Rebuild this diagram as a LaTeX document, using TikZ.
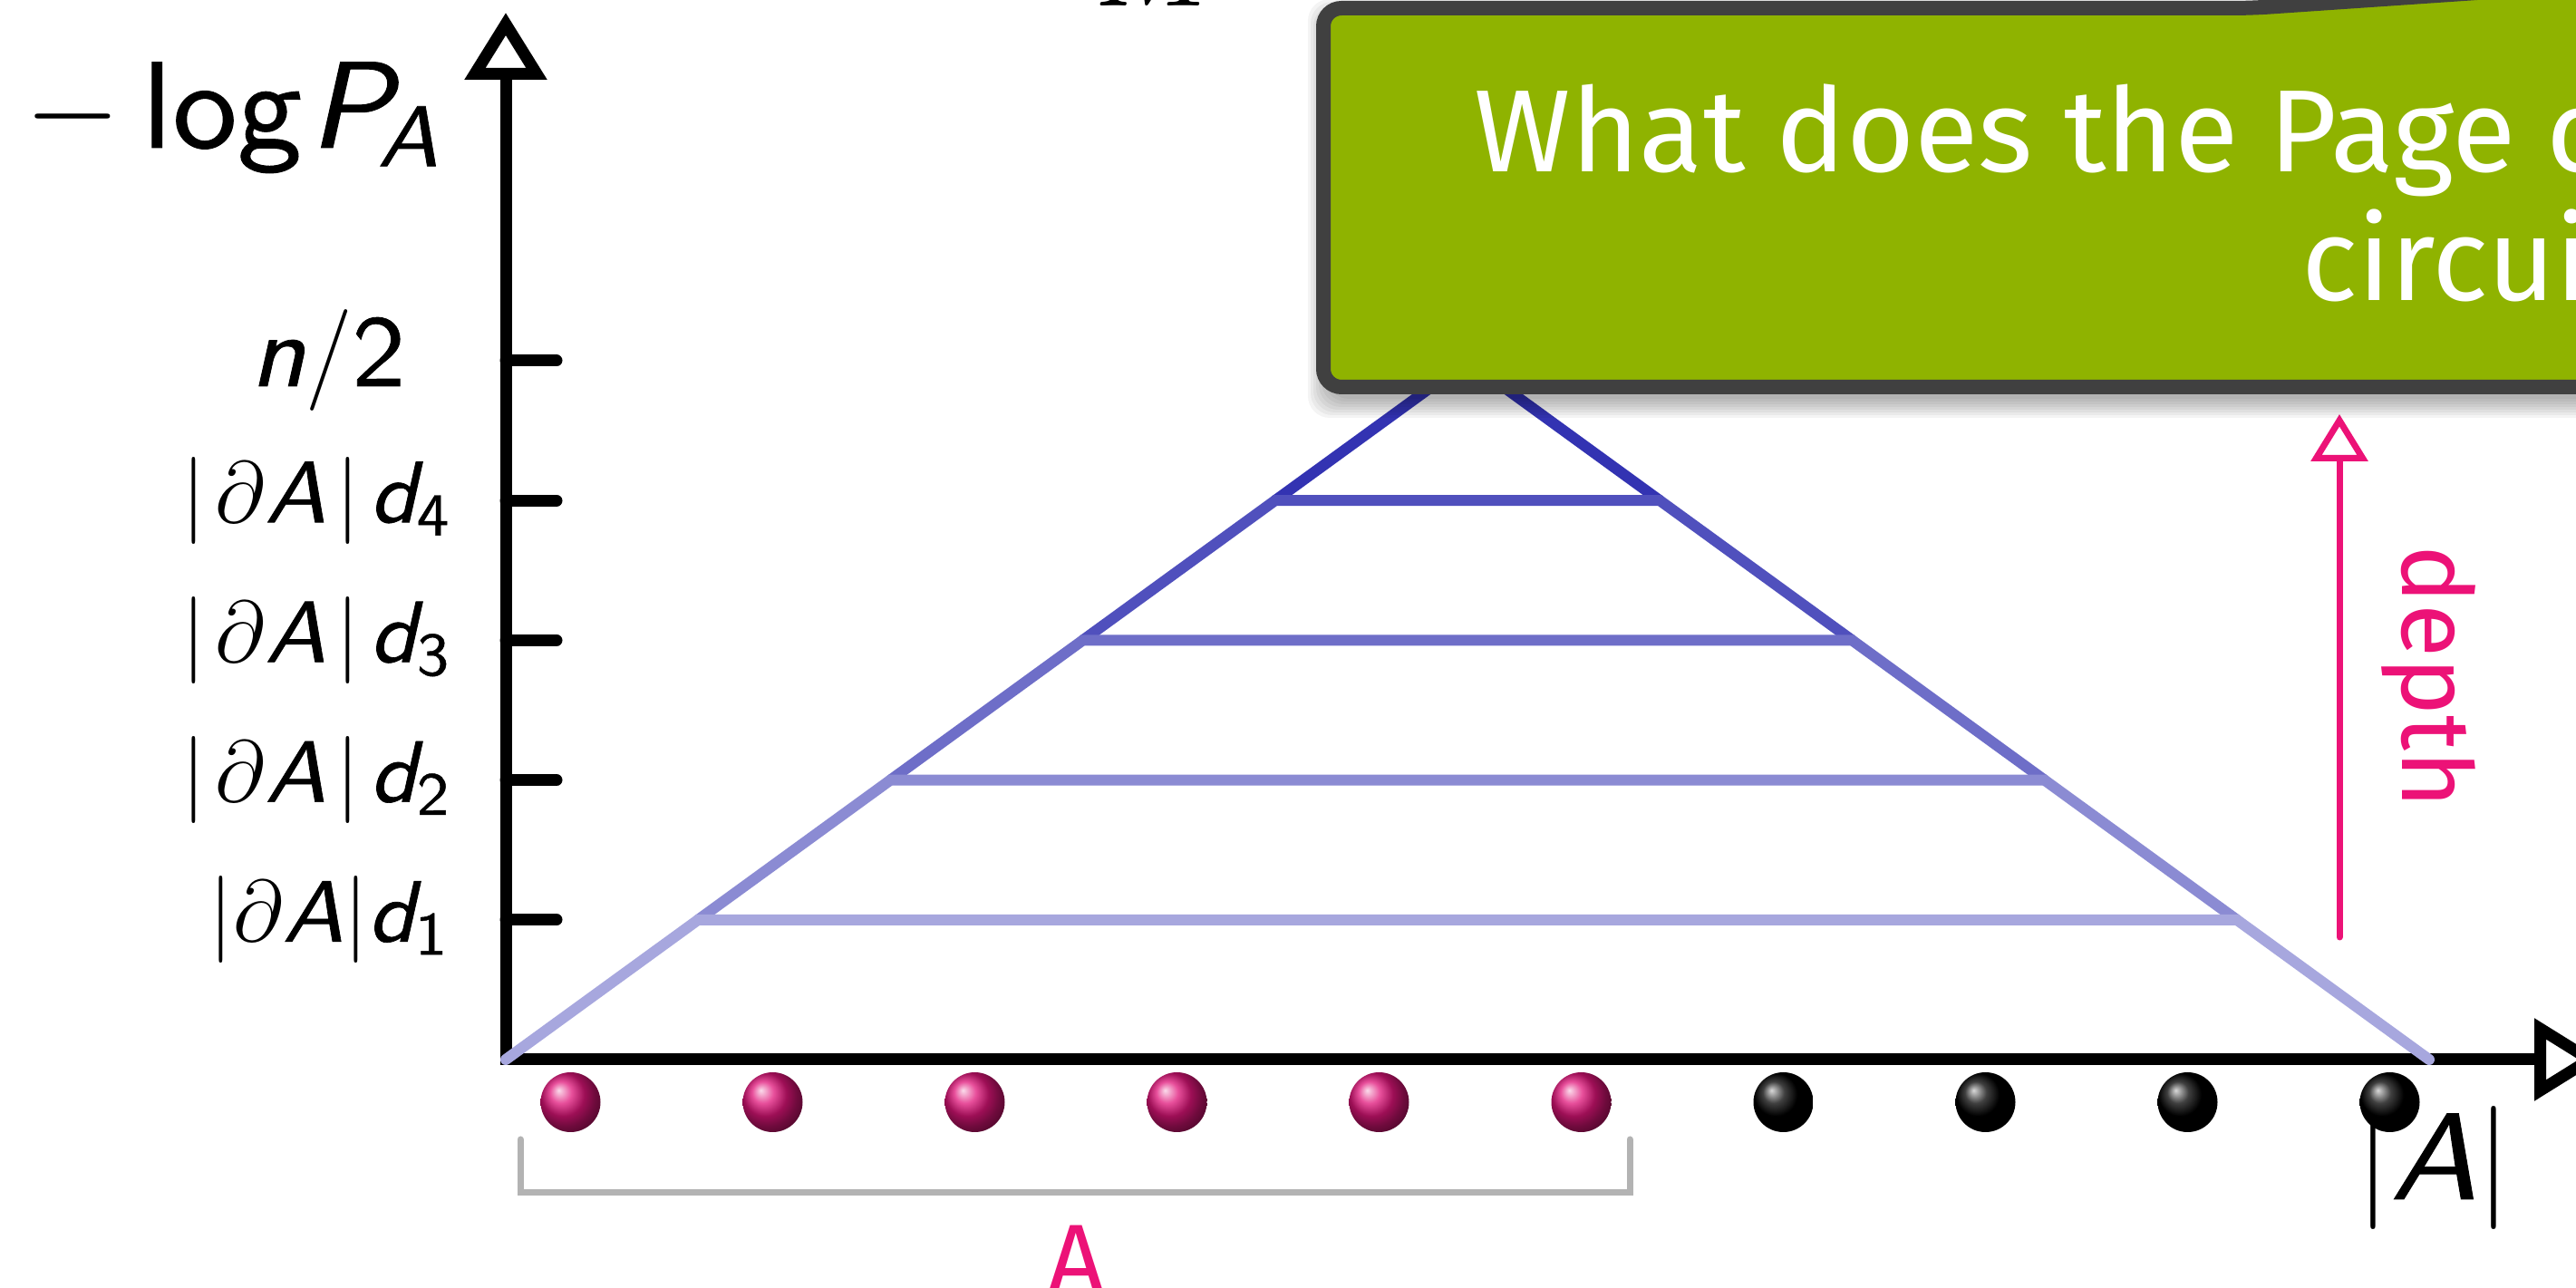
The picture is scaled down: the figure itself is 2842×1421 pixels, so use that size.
\RequirePackage{fix-cm}
\documentclass[tikz,border=0pt]{standalone}
\usepackage{amsmath}
\usepackage{fontspec}
\newfontfamily\firafam{Fira Sans}
\newfontfamily\msansfam{lmsans10-regular.otf}[ItalicFont=lmsans10-oblique.otf, FakeBold=0.7, FakeStretch=1.05]
\usetikzlibrary{arrows.meta}
\definecolor{boxgreen}{HTML}{8FB300}
\definecolor{boxborder}{HTML}{404040}
\definecolor{pinkc}{HTML}{EC1277}
\definecolor{pyr}{RGB}{51,51,178}
\definecolor{brk}{HTML}{B3B3B3}
\definecolor{ballpink}{HTML}{E0157A}
\newcommand{\mvi}[1]{\text{\msansfam\itshape #1}}
\newcommand{\mvu}[1]{\text{\msansfam #1}}
\begin{document}
\begin{tikzpicture}[x=0.25pt,y=-0.25pt,
  axis/.style={line width=3.25pt, line join=miter},
  tickmark/.style={line width=3.25pt, line cap=round},
  pyrline/.style={line width=3pt, line cap=round},
  axlab/.style={inner sep=0pt, font=\fontsize{34}{40}\selectfont},
  ticklab/.style={inner sep=0pt, font=\fontsize{24}{28}\selectfont},
  pinklab/.style={inner sep=0pt, text=pinkc, font=\firafam\fontsize{27}{32}\selectfont},
  boxtext/.style={inner sep=0pt, text=white, font=\firafam\fontsize{32.25}{38}\selectfont},
  ballnode/.style={circle, inner sep=0pt, minimum size=16.5pt, shade, shading=ball},
]
\useasboundingbox (0,0) rectangle (2842,1421);
\clip (0,0) rectangle (2842,1421);

% axes
\coordinate (O) at (558,1169);
\coordinate (Ytip) at (558,14);
\coordinate (Xtip) at (2870,1169);
\draw[axis, {Triangle[open, length=18.5pt, width=22pt]}-{Triangle[open, length=18.5pt, width=22pt]}] (Ytip) -- (O) -- (Xtip);

% ticks
\foreach \n/\y in {1/1014.8, 2/860.6, 3/706.4, 4/552.2, 5/398} {
  \coordinate (T\n) at (558,\y);
  \coordinate (E\n) at (614,\y);
  \draw[tickmark] (T\n) -- (E\n);
}

% tick labels
\node[ticklab, anchor=east, font=\fontsize{28}{32}\selectfont] (lab5) at (448,398) {$\mvi{n}/\mvu{2}$};
\node[ticklab, anchor=east] (lab4) at (498,552.2) {$|\mkern2mu\partial\mvi{A}\mkern2mu|\mkern2mu\mvi{d}_{\mvu{4}}$};
\node[ticklab, anchor=east] (lab3) at (498,706.4) {$|\mkern2mu\partial\mvi{A}\mkern2mu|\mkern2mu\mvi{d}_{\mvu{3}}$};
\node[ticklab, anchor=east] (lab2) at (498,860.6) {$|\mkern2mu\partial\mvi{A}\mkern2mu|\mkern2mu\mvi{d}_{\mvu{2}}$};
\node[ticklab, anchor=east] (lab1) at (496,1014.8) {$|\partial\mvi{A}|\mvi{d}_{\mvu{1}}$};

% axis labels
\node[axlab, anchor=base west] (ylab) at (27,163) {$-\mkern3mu\mvu{log}\mkern1mu\mvi{P}\mkern-2mu{}_{\mvi{A}}$};
\node[axlab, anchor=base] (xlab) at (2685,1323) {$|\mvi{A}|$};
\node[axlab, anchor=base west] (Mlab) at (1207,7) {$M$};

% pyramid
\coordinate (L0) at (558,1169);
\coordinate (L1) at (770.2,1014.8);
\coordinate (L2) at (982.4,860.6);
\coordinate (L3) at (1194.6,706.4);
\coordinate (L4) at (1406.8,552.2);
\coordinate (P) at (1619,398);
\coordinate (R0) at (2680,1169);
\coordinate (R1) at (2467.8,1014.8);
\coordinate (R2) at (2255.6,860.6);
\coordinate (R3) at (2043.4,706.4);
\coordinate (R4) at (1831.2,552.2);
\draw[pyrline, pyr] (L4) -- (P) -- (R4);
\draw[pyrline, pyr!86!white] (L3) -- (L4) -- (R4) -- (R3);
\draw[pyrline, pyr!71!white] (L2) -- (L3) -- (R3) -- (R2);
\draw[pyrline, pyr!57!white] (L1) -- (L2) -- (R2) -- (R1);
\draw[pyrline, pyr!43!white] (L0) -- (L1) -- (R1) -- (R0);

% balls
\foreach \k in {0,...,5}
  \node[ballnode, ball color=ballpink] (a\k) at ({629.5+223*\k},1216) {};
\foreach \k in {6,...,9}
  \node[ballnode, ball color=black] (a\k) at ({629.5+223*\k},1216) {};

% bracket
\coordinate (BL) at (574,1257);
\coordinate (BLb) at (574,1316);
\coordinate (BRb) at (1798,1316);
\coordinate (BR) at (1798,1257);
\draw[brk, line width=1.75pt, line cap=round] (BL) -- (BLb) -- (BRb) -- (BR);
\node[pinklab, anchor=base] (Alab) at (1187,1427) {A};

% depth arrow
\coordinate (Dlow) at (2581,1034);
\coordinate (Dtop) at (2581,457);
\draw[pinkc, line width=1.75pt, line cap=round, -{Triangle[open, length=13pt, width=15.5pt]}] (Dlow) -- (Dtop);
\node[pinklab, rotate=-90, anchor=base west] (depth) at (2650,601) {depth};

% callout box with soft shadow
\foreach \i in {0,...,7}
  \fill[black, opacity=0.045, rounded corners=6pt] ({1464-3*\i},{20-3*\i}) rectangle (3300,{440+3*\i});
\path[fill=boxgreen, draw=boxborder, line width=4pt, rounded corners=5pt]
  (1460,220) -- (1460,9) -- (2483,9) -- (3483,-59) -- (3300,9) -- (3300,427) -- (1460,427) -- cycle;
\node[boxtext, anchor=base west] (q1) at (1626,190) {What does the Page curve};
\node[boxtext, anchor=base west] (q2) at (2539,332) {circuits};
\end{tikzpicture}
\end{document}
